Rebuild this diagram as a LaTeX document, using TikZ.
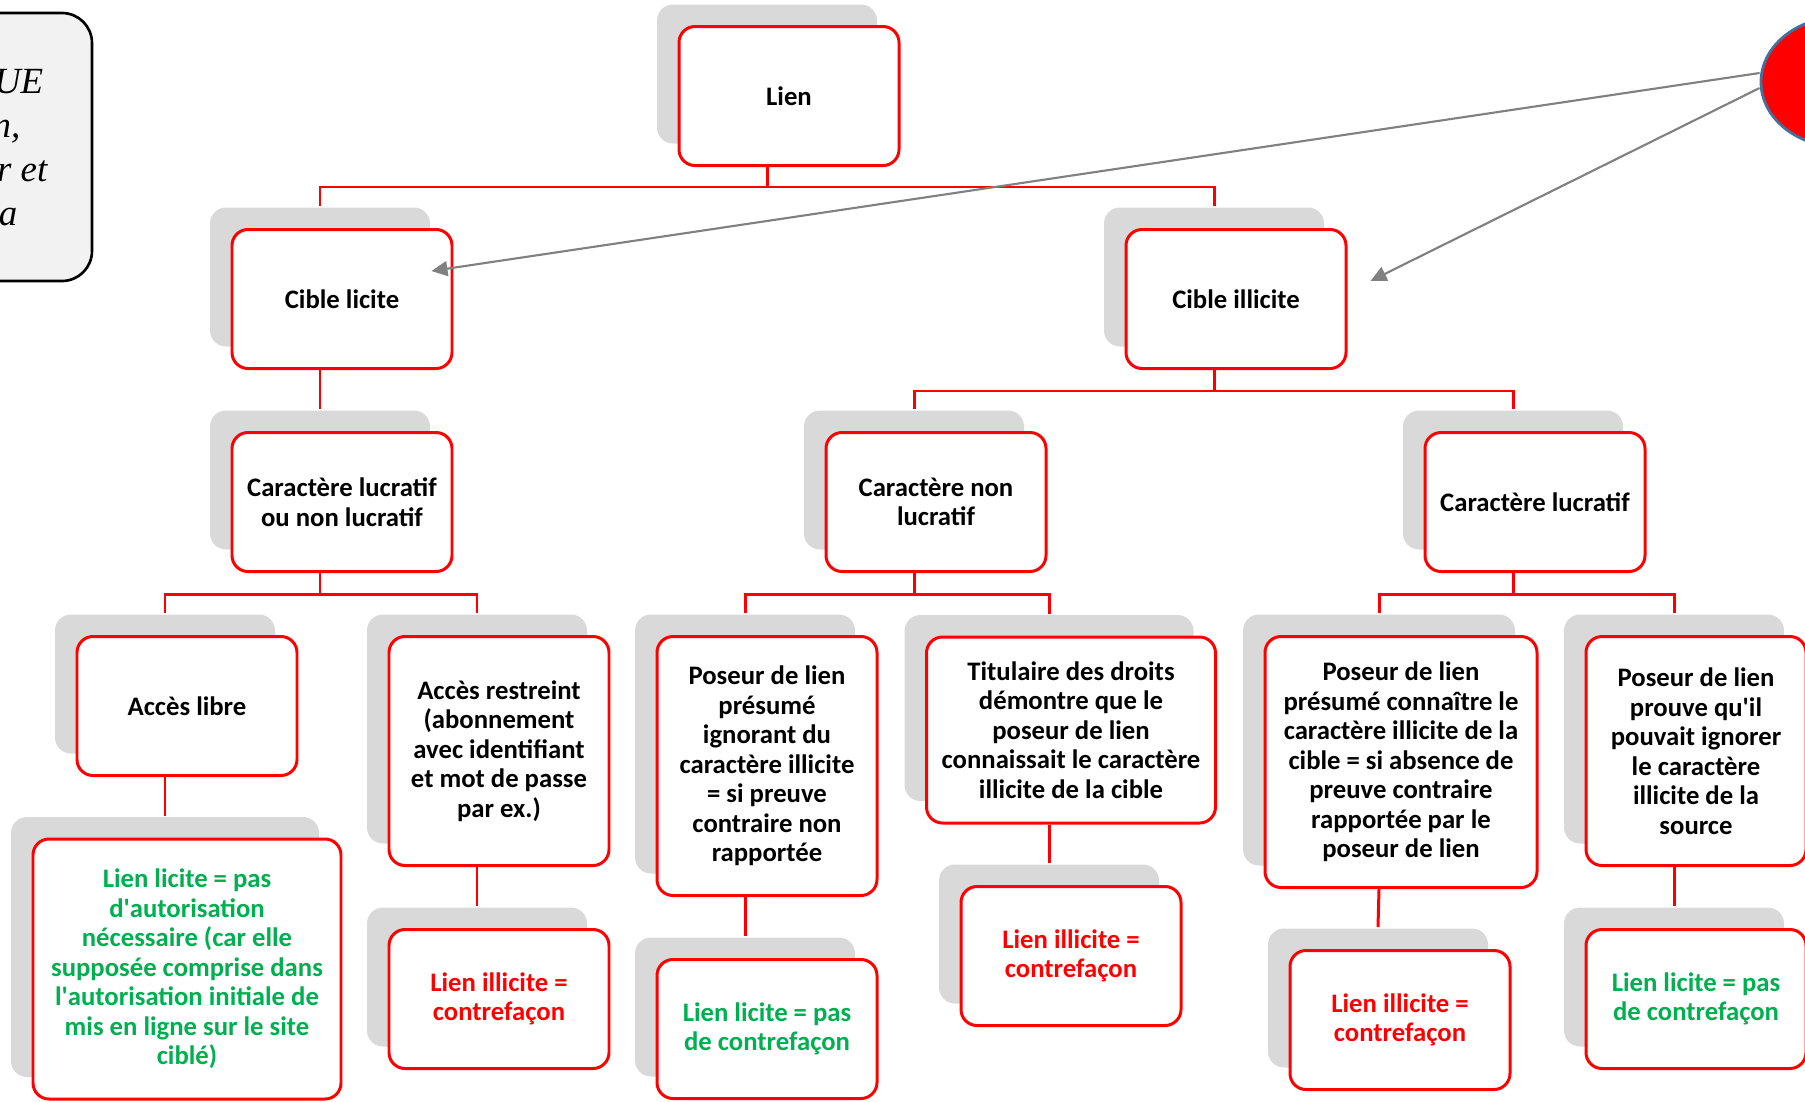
\documentclass[tikz,border=0pt]{standalone}
\usepackage{fontspec}
\newfontfamily\calibri{Carlito}
\newfontfamily\cambria{Liberation Serif}
\usetikzlibrary{shapes.geometric,shadows,arrows.meta}
\definecolor{boxred}{RGB}{255,0,0}
\definecolor{okgreen}{RGB}{0,176,80}
\definecolor{shadegray}{RGB}{217,217,217}
\definecolor{notegray}{RGB}{242,242,242}
\definecolor{bubbleblue}{RGB}{65,113,156}
\definecolor{pointergray}{RGB}{128,128,128}

\begin{document}
\begin{tikzpicture}[x=0.1mm, y=0.1mm,
    box/.style={draw=boxred, line width=0.85pt, rounded corners=1.6mm, fill=white,
                align=center, inner sep=0pt, minimum width=22mm, minimum height=13.9mm,
                font=\calibri\bfseries\fontsize{7.6}{8.4}\selectfont,
                general shadow={fill=shadegray, shadow xshift=-2.2mm, shadow yshift=2.2mm}},
    ok/.style={box, text=okgreen},
    ko/.style={box, text=boxred},
    note/.style={draw=black, line width=0.75pt, fill=notegray, rounded corners=3mm,
                 minimum width=15.2mm, minimum height=26.8mm},
    notetext/.style={anchor=base east, inner sep=0pt, font=\cambria\itshape\fontsize{10.5}{12}\selectfont},
    bubble/.style={ellipse, draw=bubbleblue, line width=0.8pt, fill=red, inner sep=0pt,
                   minimum width=16mm, minimum height=13mm},
    link/.style={draw=boxred, line width=0.85pt},
    pointer/.style={draw=pointergray, line width=0.6pt, -{Triangle[length=1.6mm,width=1.5mm]}}
]
\useasboundingbox (0,0) rectangle (1805,-1101);
\clip (0,0) rectangle (1805,-1101);

\node[note] (memo) at (16,-147) {};
\node[notetext] (memo1) at (44,-93) {UE};
\node[notetext] (memo2) at (21,-137) {n,};
\node[notetext] (memo3) at (48,-181) {r et};
\node[notetext] (memo4) at (18,-225) {a};
\node[bubble] (bulle) at (1841,-82) {};

\node[box] (lien) at (789,-96) {Lien};
\node[box] (cl) at (342,-299) {Cible licite};
\node[box] (ci) at (1236,-299) {Cible illicite};
\node[box] (clnl) at (342,-502) {Caractère lucratif\\ou non lucratif};
\node[box] (cnl) at (936,-502) {Caractère non\\lucratif};
\node[box] (cluc) at (1535,-502) {Caractère lucratif};
\node[box] (libre) at (187,-706) {Accès libre};
\node[box, minimum height=22.9mm] (restr) at (499,-751) {Accès restreint\\(abonnement\\avec identifiant\\et mot de passe\\par ex.)};
\node[box, minimum height=25.9mm] (ignor) at (767,-766) {Poseur de lien\\présumé\\ignorant du\\caractère illicite\\= si preuve\\contraire non\\rapportée};
\node[box, minimum width=28.9mm, minimum height=18.6mm] (titul) at (1071,-730) {Titulaire des droits\\démontre que le\\poseur de lien\\connaissait le caractère\\illicite de la cible};
\node[box, minimum width=27.2mm, minimum height=25.1mm] (conn) at (1401,-762) {Poseur de lien\\présumé connaître le\\caractère illicite de la\\cible = si absence de\\preuve contraire\\rapportée par le\\poseur de lien};
\node[box, minimum height=22.9mm] (prouve) at (1696,-751) {Poseur de lien\\prouve qu\textquotesingle il\\pouvait ignorer\\le caractère\\illicite de la\\source};
\node[ok, minimum width=30.8mm, minimum height=26mm] (v1) at (187,-969) {Lien licite = pas\\d\textquotesingle autorisation\\nécessaire (car elle\\supposée comprise dans\\l\textquotesingle autorisation initiale de\\mis en ligne sur le site\\ciblé)};
\node[ko] (v2) at (499,-999) {Lien illicite =\\contrefaçon};
\node[ok] (v3) at (767,-1029) {Lien licite = pas\\de contrefaçon};
\node[ko] (v4) at (1071,-956) {Lien illicite =\\contrefaçon};
\node[ko] (v5) at (1400,-1020) {Lien illicite =\\contrefaçon};
\node[ok] (v6) at (1696,-999) {Lien licite = pas\\de contrefaçon};

\draw[link] ([xshift=-2.2mm]lien.south) -- ++(0,-20) -| ([xshift=-2.2mm,yshift=2.2mm]cl.north);
\draw[link] ([xshift=-2.2mm]lien.south) -- ++(0,-20) -| ([xshift=-2.2mm,yshift=2.2mm]ci.north);
\draw[link] ([xshift=-2.2mm]cl.south) -- ([xshift=-2.2mm,yshift=2.2mm]clnl.north);
\draw[link] ([xshift=-2.2mm]ci.south) -- ++(0,-21) -| ([xshift=-2.2mm,yshift=2.2mm]cnl.north);
\draw[link] ([xshift=-2.2mm]ci.south) -- ++(0,-21) -| ([xshift=-2.2mm,yshift=2.2mm]cluc.north);
\draw[link] ([xshift=-2.2mm]clnl.south) -- ++(0,-21) -| ([xshift=-2.2mm,yshift=2.2mm]libre.north);
\draw[link] ([xshift=-2.2mm]clnl.south) -- ++(0,-21) -| ([xshift=-2.2mm,yshift=2.2mm]restr.north);
\draw[link] ([xshift=-2.2mm]cnl.south) -- ++(0,-21) -| ([xshift=-2.2mm,yshift=2.2mm]ignor.north);
\draw[link] ([xshift=-2.2mm]cnl.south) -- ++(0,-21) -| ([xshift=-2.2mm,yshift=2.2mm]titul.north);
\draw[link] ([xshift=-2.2mm]cluc.south) -- ++(0,-21) -| ([xshift=-2.2mm,yshift=2.2mm]conn.north);
\draw[link] ([xshift=-2.2mm]cluc.south) -- ++(0,-21) -| ([xshift=-2.2mm,yshift=2.2mm]prouve.north);
\draw[link] ([xshift=-2.2mm]libre.south) -- ([xshift=-2.2mm,yshift=2.2mm]v1.north);
\draw[link] ([xshift=-2.2mm]restr.south) -- ([xshift=-2.2mm,yshift=2.2mm]v2.north);
\draw[link] ([xshift=-2.2mm]ignor.south) -- ([xshift=-2.2mm,yshift=2.2mm]v3.north);
\draw[link] ([xshift=-2.2mm]titul.south) -- ([xshift=-2.2mm,yshift=2.2mm]v4.north);
\draw[link] ([xshift=-2.2mm]conn.south) -- ([xshift=-2.2mm,yshift=2.2mm]v5.north);
\draw[link] ([xshift=-2.2mm]prouve.south) -- ([xshift=-2.2mm,yshift=2.2mm]v6.north);

\draw[pointer] ([yshift=0.9mm]bulle.west) -- ([xshift=-2.2mm,yshift=2.8mm]cl.east);
\draw[pointer] ([yshift=-0.6mm]bulle.west) -- ([xshift=2.3mm,yshift=1.8mm]ci.east);
\end{tikzpicture}
\end{document}
